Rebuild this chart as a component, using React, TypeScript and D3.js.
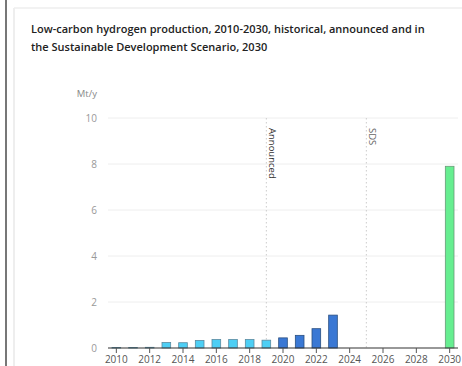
import React from "react";
import * as d3 from "d3";

const years = d3.range(2010, 2031).map(String);
const historicalYears = ["2010","2011","2012","2013","2014","2015","2016","2017","2018","2019"];
const historicalValues = [0.02, 0.02, 0.03, 0.24, 0.23, 0.33, 0.37, 0.37, 0.37, 0.34];
const announcedYears = ["2020","2021","2022","2023"];
const announcedValues = [0.44, 0.55, 0.84, 1.43];
const sdsYears = ["2030"];
const sdsValues = [7.9];
const yTicks = [0, 2, 4, 6, 8, 10];
const xTickYears = ["2010","2012","2014","2016","2018","2020","2022","2024","2026","2028","2030"];
const markers = [{ year: "2019", label: "Announced", color: "#333" }, { year: "2025", label: "SDS", color: "#666" }];
const titleLines = [
  "Low-carbon hydrogen production, 2010-2030, historical, announced and in",
  "the Sustainable Development Scenario, 2030",
];

export default function App() {
  const W = 462, H = 366;
  const x = d3.scaleBand<string>().domain(years).range([108, 458]).paddingInner(0.48).paddingOuter(0.24);
  const y = d3.scaleLinear().domain([0, 10]).range([348, 118]);
  const font = "'Open Sans', 'Noto Sans', sans-serif";
  const series = [
    { ys: historicalYears, vs: historicalValues, fill: "#4DCFF5", stroke: "#5a8aa0" },
    { ys: announcedYears, vs: announcedValues, fill: "#3A78D4", stroke: "#2a4f80" },
    { ys: sdsYears, vs: sdsValues, fill: "#66EE90", stroke: "#6a9a78" },
  ];
  const cx = (yr: string) => (x(yr) as number) + x.bandwidth() / 2;
  return (
    <svg width={W} height={H} style={{ position: "absolute", left: 0, top: 0, background: "#fff" }}>
      <rect x={0} y={0} width={W} height={H} fill="#fff" />
      <line x1={6} x2={6} y1={0} y2={H} stroke="#777" strokeWidth={2} />
      <line x1={14} x2={14} y1={8} y2={H} stroke="#eee" strokeWidth={2} />
      <line x1={14} x2={W} y1={8} y2={8} stroke="#eee" strokeWidth={1.5} />
      {titleLines.map((t, i) => (
        <text key={i} x={31} y={33 + i * 18} fontFamily={font} fontSize={11} fontWeight={600} fill="#222">{t}</text>
      ))}
      <text x={97} y={97} textAnchor="end" fontFamily={font} fontSize={9.5} fill="#888">Mt/y</text>
      {yTicks.map((t) => (
        <g key={t}>
          {t > 0 && <line x1={108} x2={458} y1={y(t)} y2={y(t)} stroke="#eee" strokeWidth={1} />}
          <text x={97} y={y(t) + 3.5} textAnchor="end" fontFamily={font} fontSize={10} fill="#999">{t}</text>
        </g>
      ))}
      {markers.map((m) => (
        <g key={m.year}>
          <line x1={cx(m.year)} x2={cx(m.year)} y1={118} y2={348} stroke="#ccc" strokeDasharray="1.5,2.5" strokeWidth={1} />
          <text transform={`translate(${cx(m.year) + 3},${128}) rotate(90)`} fontFamily={font} fontSize={9.5} fill={m.color}>{m.label}</text>
        </g>
      ))}
      {series.map((s, si) =>
        s.ys.map((yr, i) => {
          const v = s.vs[i];
          const top = y(v);
          return (
            <rect key={si + yr} x={x(yr)} y={top} width={x.bandwidth()} height={Math.max(0.5, y(0) - top)}
              fill={s.fill} stroke={s.stroke} strokeWidth={0.8} />
          );
        })
      )}
      <line x1={108} x2={458} y1={348} y2={348} stroke="#333" strokeWidth={1.2} />
      {xTickYears.map((yr) => (
        <g key={yr}>
          <line x1={cx(yr)} x2={cx(yr)} y1={348} y2={353} stroke="#555" strokeWidth={1} />
          <text x={cx(yr)} y={363} textAnchor="middle" fontFamily={font} fontSize={10} fill="#555">{yr}</text>
        </g>
      ))}
    </svg>
  );
}
